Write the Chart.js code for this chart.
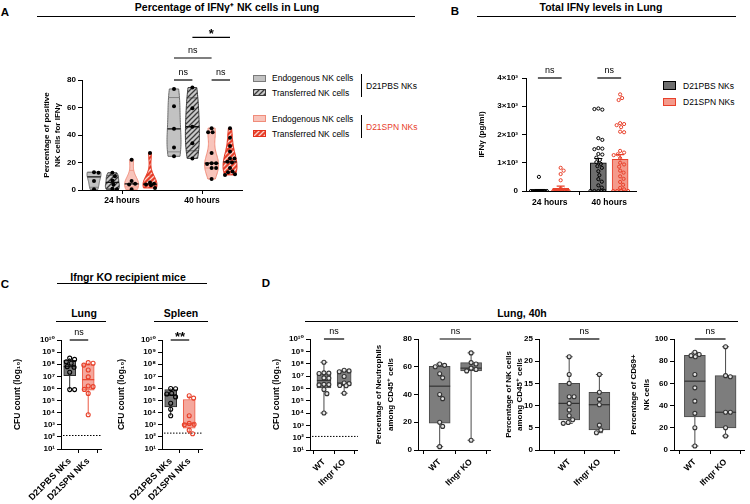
<!DOCTYPE html>
<html>
<head>
<meta charset="utf-8">
<script src="https://cdn.jsdelivr.net/npm/chart.js@4.4.1/dist/chart.umd.min.js"></script>
<style>
  body { margin: 0; background: #fff; }
  #fig { position: relative; width: 750px; height: 504px; overflow: hidden; font-family: "Liberation Sans", Arial, sans-serif; color: #000; }
  #fig canvas { position: absolute; }
  .t { position: absolute; white-space: nowrap; line-height: 1; }
  .c { transform: translate(-50%, -50%); }
  .l { transform: translateY(-50%); }
  .b { font-weight: bold; }
  .rule { position: absolute; background: #000; }
  .sw { position: absolute; box-sizing: border-box; }
</style>
</head>
<body>
<div id="fig"></div>
<script>
// ---------- data ----------
var timeLabels = ['24 hours', '40 hours'];
var aTicks = [0, 20, 40, 60, 80];
// panel A: % of IFNg+ NK cells, one array per violin
var pbsEndo24 = [13, 12.5, 6.5, 0.5];
var pbsTrans24 = [12.5, 10, 7, 4, 1, 0.5];
var spnEndo24 = [22, 6.5, 4.5, 4, 0.5];
var spnTrans24 = [27, 5.5, 4.5, 4, 3.5, 1.5];
var pbsEndo40 = [73.5, 61, 44.5, 31, 24.5];
var pbsTrans40 = [74.5, 59.5, 46, 34, 23];
var spnEndo40 = [45, 42, 42, 27, 19.5, 19.5, 19, 16, 16, 8];
var spnTrans40 = [45, 38, 32, 28, 23, 23, 20.5, 20, 16, 13.5, 13, 11.5, 11];

// panel B: total IFNg (pg/ml)
var bTicks = [0, 1000, 2000, 3000, 4000];
var bTickLabels = ['0', '1×10³', '2×10³', '3×10³', '4×10³'];
var pbsMeanB = [25, 1000];
var spnMeanB = [95, 1120];
var pbsSemB = [25, 150];
var spnSemB = [80, 170];
var pbs24B = [500, 0, 0, 0, 0, 0, 0, 0, 0, 0, 0, 0, 0, 0, 0];
var spn24B = [820, 720, 600, 380, 90, 40, 20, 0, 0, 0, 0, 0, 0, 0, 0, 0, 0, 0, 0, 0];
var pbs40B = [2920, 2880, 2900, 1870, 1810, 1520, 1500, 1480, 1310, 1290, 1180, 1100, 1020, 960, 880, 820, 700, 560, 420, 330, 200, 120, 0, 0, 0, 0, 0];
var spn40B = [3420, 3290, 3220, 2400, 2370, 2330, 2260, 2100, 2080, 1420, 1360, 1300, 1270, 1160, 1000, 940, 860, 720, 650, 520, 430, 320, 220, 110, 60, 0, 0, 0, 0];

// panel C: CFU in Ifngr KO recipients
var cGroups = ['D21PBS NKs', 'D21SPN NKs'];
var lungPBS = [3.2e8, 2.5e8, 1.6e8, 1.2e8, 6.3e7, 5.6e7, 2.2e7, 8e5, 8e5];
var lungSPN = [1.35e8, 1.2e8, 8.5e7, 3.3e7, 9e6, 1.6e6, 1.4e6, 8.3e5, 3.9e5, 6.8e3];
var spleenPBS = [1e6, 9.5e5, 3.9e5, 3.5e5, 2e5, 6e4, 1.9e4, 5.6e3];
var spleenSPN = [2.5e5, 1.6e5, 5.6e3, 1.3e3, 1.1e3, 1e3, 3.6e2, 1.8e2];
var lungLimit = 130;
var spleenLimit = 205;
var logTicks = [1e1, 1e2, 1e3, 1e4, 1e5, 1e6, 1e7, 1e8, 1e9, 1e10];
var logTickLabels = ['10¹', '10²', '10³', '10⁴', '10⁵', '10⁶', '10⁷', '10⁸', '10⁹', '10¹⁰'];

// panel D: lung, 40h
var dGroups = ['WT', 'Ifngr KO'];
var cfuWT = [1.3e8, 1.8e7, 1.7e7, 1.6e7, 7e6, 6.5e6, 2.1e6, 2e6, 1.9e6, 8e5, 3.7e5, 1e4];
var cfuKO = [2.9e7, 2.6e7, 2.2e7, 9e6, 2.7e6, 2.4e6, 1.7e6, 1.6e6, 4e5];
var cfuLimit = 126;
var neutWT = [62, 61, 60, 55, 52, 40, 37, 20, 17, 2.4];
var neutKO = [70, 63, 62, 59, 58, 57, 7];
var nkWT = [21, 17, 15, 12, 12, 10.5, 9, 7.7, 6.8, 6.2, 6];
var nkKO = [17, 13, 11.4, 10.2, 5.6, 4.5, 3.9];
var cd69WT = [88, 86, 85, 84, 68, 56, 44, 33, 20, 3.6];
var cd69KO = [93, 67, 66, 34, 34, 20, 12.6];
var neutTicks = [0, 20, 40, 60, 80];
var nkTicks = [0, 5, 10, 15, 20, 25];
var cd69Ticks = [0, 20, 40, 60, 80, 100];

// ---------- helpers ----------
var FONT = '"Liberation Sans", "DejaVu Sans", Arial, sans-serif';
Chart.defaults.font.family = FONT;
Chart.defaults.color = '#000';
var fig = document.getElementById('fig');

function txt(s, x, y, size, cls, color) {
  var d = document.createElement('div');
  d.className = 't ' + cls;
  d.textContent = s;
  d.style.left = x + 'px';
  d.style.top = y + 'px';
  d.style.fontSize = size + 'px';
  if (color) d.style.color = color;
  fig.appendChild(d);
}
function rule(x1, x2, y, w) {
  var d = document.createElement('div');
  d.className = 'rule';
  d.style.left = x1 + 'px'; d.style.width = (x2 - x1) + 'px';
  d.style.top = (y - w / 2) + 'px'; d.style.height = w + 'px';
  fig.appendChild(d);
}
function swatch(x, y, w, h, bg, border) {
  var d = document.createElement('div');
  d.className = 'sw';
  d.style.left = x + 'px'; d.style.top = y + 'px';
  d.style.width = w + 'px'; d.style.height = h + 'px';
  d.style.background = bg;
  d.style.border = '1px solid ' + border;
  fig.appendChild(d);
}
function hatchCanvas(bg, fg) {
  var c = document.createElement('canvas');
  c.width = 5; c.height = 5;
  var g = c.getContext('2d');
  g.fillStyle = bg; g.fillRect(0, 0, 5, 5);
  g.strokeStyle = fg; g.lineWidth = 1.3;
  g.beginPath();
  g.moveTo(-1, 6); g.lineTo(6, -1);
  g.moveTo(-1, 1); g.lineTo(1, -1);
  g.moveTo(4, 6); g.lineTo(6, 4);
  g.stroke();
  return c;
}

function quant(s, p) {
  var n = s.length, pos = (n + 1) * p;
  if (pos <= 1) return s[0];
  if (pos >= n) return s[n - 1];
  var lo = Math.floor(pos), f = pos - lo;
  return s[lo - 1] + f * (s[lo] - s[lo - 1]);
}
function stats(vals) {
  var s = vals.slice().sort(function (a, b) { return a - b; });
  return { min: s[0], q1: quant(s, 0.25), med: quant(s, 0.5), q3: quant(s, 0.75), max: s[s.length - 1] };
}

// simple beeswarm: horizontal pixel offsets so dots don't overlap (overlap once the limit is reached)
function swarm(vals, toPx, r, limit) {
  var placed = [], out = [];
  vals.forEach(function (v) {
    var y = toPx(v), best = 0, bestD = -1;
    for (var k = 0; k <= limit * 4; k++) {
      var off = (k % 2 ? 1 : -1) * Math.ceil(k / 2) * 0.5;
      if (Math.abs(off) > limit) continue;
      var d = Infinity;
      placed.forEach(function (p) { d = Math.min(d, Math.hypot(p[0] - off, p[1] - y)); });
      if (d >= 2 * r) { best = off; bestD = Infinity; break; }
      if (d > bestD) { bestD = d; best = off; }
    }
    placed.push([best, y]);
    out.push(best);
  });
  return out;
}
function swarmXY(vals, cx, toPx, pxPerX, r, limit) {
  var off = swarm(vals, toPx, r, limit);
  return vals.map(function (v, i) { return { x: cx + off[i] / pxPerX, y: v }; });
}
function linPx(min, max, h) { return function (v) { return (v - min) / (max - min) * h; }; }
function logPx(min, max, h) { return function (v) { return (Math.log10(v) - Math.log10(min)) / (Math.log10(max) - Math.log10(min)) * h; }; }

function drawViolin(ctx, xs, ys, v) {
  var s = v.vals.slice().sort(function (a, b) { return a - b; });
  var n = s.length, mean = s.reduce(function (p, c) { return p + c; }, 0) / n;
  var sd = Math.sqrt(s.reduce(function (p, c) { return p + (c - mean) * (c - mean); }, 0) / (n - 1));
  var h = 0.9 * sd * Math.pow(n, -0.2);
  var pts = [], maxD = 0, steps = 40;
  for (var i = 0; i <= steps; i++) {
    var y = s[0] + (s[n - 1] - s[0]) * i / steps, d = 0;
    s.forEach(function (x) { var u = (y - x) / h; d += Math.exp(-0.5 * u * u); });
    pts.push([y, d]);
    if (d > maxD) maxD = d;
  }
  var cx = xs.getPixelForValue(v.x);
  ctx.save();
  ctx.beginPath();
  pts.forEach(function (p, i) {
    var px = cx - p[1] / maxD * v.hw, py = ys.getPixelForValue(p[0]);
    if (i) ctx.lineTo(px, py); else ctx.moveTo(px, py);
  });
  for (var j = pts.length - 1; j >= 0; j--) ctx.lineTo(cx + pts[j][1] / maxD * v.hw, ys.getPixelForValue(pts[j][0]));
  ctx.closePath();
  ctx.fillStyle = v.hatch ? ctx.createPattern(hatchCanvas(v.hatch[0], v.hatch[1]), 'repeat') : v.fill;
  ctx.fill();
  ctx.strokeStyle = v.stroke; ctx.lineWidth = 1; ctx.stroke();
  ctx.clip();
  var st = stats(v.vals);
  ctx.lineWidth = 0.7; ctx.strokeStyle = v.stroke;
  [st.q1, st.q3].forEach(function (q) {
    var y = ys.getPixelForValue(q);
    ctx.beginPath(); ctx.moveTo(cx - 12, y); ctx.lineTo(cx + 12, y); ctx.stroke();
  });
  ctx.lineWidth = 1.3; ctx.strokeStyle = '#111';
  var ym = ys.getPixelForValue(st.med);
  ctx.beginPath(); ctx.moveTo(cx - 12, ym); ctx.lineTo(cx + 12, ym); ctx.stroke();
  ctx.restore();
}

function extras(spec) {
  return {
    id: 'extras',
    beforeDatasetsDraw: function (chart) {
      var ctx = chart.ctx, xs = chart.scales.x, ys = chart.scales.y, a = chart.chartArea;
      if (spec.limit) {
        var y = ys.getPixelForValue(spec.limit);
        ctx.save(); ctx.strokeStyle = '#000'; ctx.lineWidth = 1; ctx.setLineDash([1.5, 1.5]);
        ctx.beginPath(); ctx.moveTo(a.left + 2, y); ctx.lineTo(a.right, y); ctx.stroke();
        ctx.restore();
      }
      (spec.violins || []).forEach(function (v) { drawViolin(ctx, xs, ys, v); });
    },
    afterDatasetDraw: function (chart, args) {
      if (args.index !== 0) return;
      var ctx = chart.ctx, xs = chart.scales.x, ys = chart.scales.y;
      ctx.save();
      (spec.boxes || []).forEach(function (b) {
        var st = stats(b.vals), cx = xs.getPixelForValue(b.x), hw = b.w / 2;
        var yMin = ys.getPixelForValue(st.min), yMax = ys.getPixelForValue(st.max);
        var y1 = ys.getPixelForValue(st.q1), y3 = ys.getPixelForValue(st.q3), ym = ys.getPixelForValue(st.med);
        ctx.strokeStyle = b.line; ctx.lineWidth = 1;
        ctx.beginPath();
        ctx.moveTo(cx, y3); ctx.lineTo(cx, yMax);
        ctx.moveTo(cx, y1); ctx.lineTo(cx, yMin);
        if (b.cap) {
          ctx.moveTo(cx - b.cap, yMax); ctx.lineTo(cx + b.cap, yMax);
          ctx.moveTo(cx - b.cap, yMin); ctx.lineTo(cx + b.cap, yMin);
        }
        ctx.stroke();
        ctx.strokeStyle = b.med; ctx.lineWidth = 1.2;
        ctx.beginPath(); ctx.moveTo(cx - hw, ym); ctx.lineTo(cx + hw, ym); ctx.stroke();
      });
      (spec.errors || []).forEach(function (e) {
        var cx = xs.getPixelForValue(e.x), y0 = ys.getPixelForValue(e.mean), y1 = ys.getPixelForValue(e.mean + e.sem);
        ctx.strokeStyle = e.color; ctx.lineWidth = 1.2;
        ctx.beginPath();
        ctx.moveTo(cx, y0); ctx.lineTo(cx, y1);
        ctx.moveTo(cx - 4, y1); ctx.lineTo(cx + 4, y1);
        ctx.stroke();
      });
      ctx.restore();
    },
    afterDraw: function (chart) {
      var ctx = chart.ctx, xs = chart.scales.x, ys = chart.scales.y;
      ctx.save();
      (spec.brackets || []).forEach(function (b) {
        var x1 = xs.getPixelForValue(b.x1), x2 = xs.getPixelForValue(b.x2), y = ys.getPixelForValue(b.y);
        ctx.strokeStyle = '#000'; ctx.lineWidth = 1.2;
        ctx.beginPath(); ctx.moveTo(x1, y); ctx.lineTo(x2, y); ctx.stroke();
        ctx.fillStyle = '#000'; ctx.textAlign = 'center'; ctx.textBaseline = 'alphabetic';
        if (b.text === 'ns') {
          ctx.font = '9px ' + FONT;
          ctx.fillText('ns', (x1 + x2) / 2, y - 5);
        } else {
          ctx.font = 'bold 13px ' + FONT;
          ctx.fillText(b.text, (x1 + x2) / 2, y + 0.5);
        }
      });
      ctx.restore();
    }
  };
}

var gridOpts = { display: true, drawOnChartArea: false, drawTicks: true, tickLength: 4, color: '#000', lineWidth: 1 };
var borderOpts = { display: true, color: '#000', width: 1 };

function yAxis(o) {
  return {
    type: o.type || 'linear', min: o.min, max: o.max, position: 'left',
    afterFit: function (s) { s.width = o.w; },
    afterBuildTicks: function (s) { s.ticks = o.ticks.map(function (v) { return { value: v }; }); },
    ticks: {
      font: { size: 8, weight: 'bold' }, padding: o.tpad || 2, autoSkip: false,
      callback: function (v) { var i = o.ticks.indexOf(v); return o.labels ? o.labels[i] : String(v); }
    },
    grid: gridOpts, border: borderOpts,
    title: { display: true, text: o.title, font: { size: o.fs || 8, weight: 'bold', lineHeight: o.lh + 'px' }, padding: { top: o.pad, bottom: 0 } }
  };
}
function xAxis(o) {
  var rot = o.rot || 0;
  return {
    type: 'linear', min: o.min, max: o.max, position: 'bottom', offset: false,
    afterFit: function (s) { s.height = o.h; },
    afterBuildTicks: function (s) { s.ticks = o.labels.map(function (l, i) { return { value: i + 1 }; }); },
    ticks: {
      font: { size: o.fs || 8.5, weight: 'bold' }, padding: o.pad || 2, autoSkip: false,
      maxRotation: rot, minRotation: rot,
      callback: function (v) { return o.labels[Math.round(v) - 1]; }
    },
    grid: gridOpts, border: borderOpts
  };
}

function makeChart(g, datasets, scales, spec) {
  var cv = document.createElement('canvas');
  var left = g.l - g.yW, top = g.t - g.pt;
  cv.width = g.r - left + g.pr;
  cv.height = g.b - top + g.xH;
  cv.style.left = left + 'px';
  cv.style.top = top + 'px';
  fig.appendChild(cv);
  return new Chart(cv.getContext('2d'), {
    type: 'scatter',
    data: { datasets: datasets },
    options: {
      responsive: false, animation: false, events: [], devicePixelRatio: 1,
      layout: { padding: { left: 0, top: g.pt, right: g.pr, bottom: 0 } },
      scales: scales,
      plugins: { legend: { display: false }, tooltip: { enabled: false } }
    },
    plugins: [extras(spec)]
  });
}
function dots(data, border, fill, r, bw) {
  return { type: 'scatter', data: data, order: 1, pointRadius: r, pointBorderWidth: bw, pointBorderColor: border, pointBackgroundColor: fill };
}

// ---------- panel A ----------
var vOff = [-0.35, -0.12, 0.12, 0.35];
var aSets = [[pbsEndo24, pbsTrans24, spnEndo24, spnTrans24], [pbsEndo40, pbsTrans40, spnEndo40, spnTrans40]];
var vStyles = [
  { fill: '#c2c2c2', stroke: '#6a6a6a' },
  { hatch: ['#c8c8c8', '#3a3a3a'], stroke: '#3a3a3a' },
  { fill: '#f8c4bb', stroke: '#f08c7a' },
  { hatch: ['#e8402a', '#fbd3cc'], stroke: '#e3301c' }
];
var gA = { l: 82, t: 80, r: 242, b: 190, yW: 82, xH: 26, pt: 60, pr: 6 };
var aDots = [], aViolins = [];
aSets.forEach(function (grp, gi) {
  grp.forEach(function (vals, k) {
    var cx = gi + 1 + vOff[k];
    aViolins.push({ x: cx, vals: vals, hw: 7, fill: vStyles[k].fill, hatch: vStyles[k].hatch, stroke: vStyles[k].stroke });
    aDots.push(dots(swarmXY(vals, cx, linPx(0, 80, 110), 80, 2.1, 5), '#000', '#000', 2, 0));
  });
});
makeChart(gA, aDots, {
  x: xAxis({ min: 0.5, max: 2.5, h: gA.xH, labels: timeLabels, pad: 2 }),
  y: yAxis({ min: 0, max: 80, w: gA.yW, ticks: aTicks, title: ['Percentage of positive', 'NK cells for IFNγ'], lh: 11, pad: 41 })
}, {
  violins: aViolins,
  brackets: [
    { x1: 2 + vOff[0], x2: 2 + vOff[1], y: 80, text: 'ns' },
    { x1: 2 + vOff[2], x2: 2 + vOff[3], y: 80, text: 'ns' },
    { x1: 2 + vOff[0], x2: 2 + vOff[2], y: 96, text: 'ns' },
    { x1: 2 + vOff[1], x2: 2 + vOff[3], y: 111, text: '*' }
  ]
});

// ---------- panel B ----------
var gB = { l: 526, t: 78, r: 637, b: 191, yW: 56, xH: 22, pt: 20, pr: 4 };
var bo = 0.183, bPx = linPx(0, 4000, 113);
var bBars = {
  type: 'bar', order: 2, barThickness: 16, borderWidth: 1, borderSkipped: false,
  data: [
    { x: 1 - bo, y: pbsMeanB[0] }, { x: 1 + bo, y: spnMeanB[0] },
    { x: 2 - bo, y: pbsMeanB[1] }, { x: 2 + bo, y: spnMeanB[1] }
  ],
  backgroundColor: ['#6e6e6e', '#f49a8b', '#6e6e6e', '#f49a8b'],
  borderColor: ['#000', '#e8402a', '#000', '#e8402a']
};
makeChart(gB, [
  bBars,
  dots(swarmXY(pbs24B, 1 - bo, bPx, 60, 2, 8), '#000', 'rgba(0,0,0,0)', 1.6, 1),
  dots(swarmXY(spn24B, 1 + bo, bPx, 60, 2, 8), '#e8402a', 'rgba(0,0,0,0)', 1.6, 1),
  dots(swarmXY(pbs40B, 2 - bo, bPx, 60, 2, 8), '#000', 'rgba(0,0,0,0)', 1.6, 1),
  dots(swarmXY(spn40B, 2 + bo, bPx, 60, 2, 8), '#e8402a', 'rgba(0,0,0,0)', 1.6, 1)
], {
  x: xAxis({ min: 0.6, max: 2.45, h: gB.xH, labels: timeLabels, pad: 3 }),
  y: yAxis({ min: 0, max: 4000, w: gB.yW, ticks: bTicks, labels: bTickLabels, title: 'IFNγ (pg/ml)', lh: 11, pad: 6.5, tpad: 4 })
}, {
  errors: [
    { x: 1 - bo, mean: pbsMeanB[0], sem: pbsSemB[0], color: '#000' },
    { x: 1 + bo, mean: spnMeanB[0], sem: spnSemB[0], color: '#e8402a' },
    { x: 2 - bo, mean: pbsMeanB[1], sem: pbsSemB[1], color: '#000' },
    { x: 2 + bo, mean: spnMeanB[1], sem: spnSemB[1], color: '#e8402a' }
  ],
  brackets: [
    { x1: 1 - 0.2, x2: 1 + 0.2, y: 4000, text: 'ns' },
    { x1: 2 - 0.2, x2: 2 + 0.2, y: 4000, text: 'ns' }
  ]
});

// ---------- box plot charts (C and D) ----------
function boxChart(g, xr, yo, groups, a, b, look, spec) {
  var pxX = (g.r - g.l) / (xr[1] - xr[0]);
  var toPx = yo.type === 'logarithmic' ? logPx(yo.min, yo.max, g.b - g.t) : linPx(yo.min, yo.max, g.b - g.t);
  var sa = stats(a), sb = stats(b);
  var bars = {
    type: 'bar', order: 2, barThickness: look.w, borderWidth: 1, borderSkipped: false,
    data: [{ x: 1, y: [sa.q1, sa.q3] }, { x: 2, y: [sb.q1, sb.q3] }],
    backgroundColor: [look.fillA, look.fillB], borderColor: [look.lineA, look.lineB]
  };
  spec.boxes = [
    { x: 1, vals: a, w: look.w, line: look.lineA, med: look.medA, cap: look.cap },
    { x: 2, vals: b, w: look.w, line: look.lineB, med: look.medB, cap: look.cap }
  ];
  yo.w = g.yW;
  makeChart(g, [
    bars,
    dots(swarmXY(a, 1, toPx, pxX, 2.5, look.spread), look.dotA, look.dotFill, 2, 1.1),
    dots(swarmXY(b, 2, toPx, pxX, 2.5, look.spread), look.dotB, look.dotFill, 2, 1.1)
  ], {
    x: xAxis({ min: xr[0], max: xr[1], h: g.xH, labels: groups, rot: 45, pad: 3, fs: look.xfs }),
    y: yAxis(yo)
  }, spec);
}

var lookC = { w: 12, fillA: '#787878', fillB: '#f5a79c', lineA: '#2b2b2b', lineB: '#ec5843', medA: '#1a1a1a', medB: '#e8402a',
  dotA: '#000', dotB: '#e8402a', dotFill: 'rgba(0,0,0,0)', spread: 7, cap: 0, xfs: 9 };
var lookD = { w: 14, fillA: '#7d7d7d', fillB: '#7d7d7d', lineA: '#4a4a4a', lineB: '#4a4a4a', medA: '#333', medB: '#333',
  dotA: '#333', dotB: '#333', dotFill: '#e4e4e4', spread: 7, cap: 3.5, xfs: 8.5 };

// panel C
boxChart({ l: 61, t: 340, r: 103, b: 449, yW: 55, xH: 55, pt: 16, pr: 4 }, [0.53, 2.74],
  { type: 'logarithmic', min: 10, max: 1e10, ticks: logTicks, labels: logTickLabels, title: 'CFU count (log₁₀)', lh: 11, pad: 6.5, fs: 8.5 },
  cGroups, lungPBS, lungSPN, lookC,
  { limit: lungLimit, brackets: [{ x1: 1, x2: 2, y: 1e10, text: 'ns' }] });
boxChart({ l: 162, t: 340, r: 204, b: 449, yW: 50, xH: 55, pt: 16, pr: 4 }, [0.53, 2.74],
  { type: 'logarithmic', min: 10, max: 1e10, ticks: logTicks, labels: logTickLabels, title: 'CFU count (log₁₀)', lh: 11, pad: 4.5, fs: 8.5 },
  cGroups, spleenPBS, spleenSPN, lookC,
  { limit: spleenLimit, brackets: [{ x1: 1, x2: 2, y: 1e10, text: '**' }] });

// panel D
boxChart({ l: 310, t: 339, r: 359, b: 450, yW: 45, xH: 54, pt: 17, pr: 4 }, [0.31, 2.68],
  { type: 'logarithmic', min: 10, max: 1e10, ticks: logTicks, labels: logTickLabels, title: 'CFU count (log₁₀)', lh: 11, pad: 6.5, fs: 8.5 },
  dGroups, cfuWT, cfuKO, lookD,
  { limit: cfuLimit, brackets: [{ x1: 1, x2: 2, y: 1e10, text: 'ns' }] });
lookD.w = 21;
boxChart({ l: 418, t: 339, r: 492, b: 450, yW: 48, xH: 54, pt: 17, pr: 4 }, [0.31, 2.63],
  { min: 0, max: 80, ticks: neutTicks, title: ['Percentage of Neutrophils', 'among CD45⁺ cells'], lh: 12, pad: 3 },
  dGroups, neutWT, neutKO, lookD,
  { brackets: [{ x1: 1, x2: 2, y: 80, text: 'ns' }] });
boxChart({ l: 539, t: 339, r: 621, b: 450, yW: 38, xH: 54, pt: 17, pr: 4 }, [0, 2.68],
  { min: 0, max: 25, ticks: nkTicks, title: ['Percentage of NK cells', 'among CD45⁺ cells'], lh: 11, pad: 2.5 },
  dGroups, nkWT, nkKO, lookD,
  { brackets: [{ x1: 1, x2: 2, y: 25, text: 'ns' }] });
boxChart({ l: 674, t: 339, r: 748, b: 450, yW: 50, xH: 54, pt: 17, pr: 2 }, [0.32, 2.63],
  { min: 0, max: 100, ticks: cd69Ticks, title: ['Percentage of CD69+', 'NK cells'], lh: 13, pad: 3.5 },
  dGroups, cd69WT, cd69KO, lookD,
  { brackets: [{ x1: 1, x2: 2, y: 100, text: 'ns' }] });

// ---------- titles, rules, legends ----------
txt('A', 5, 12.5, 11.5, 'c b');
txt('Percentage of IFNγ⁺ NK cells in Lung', 227, 7, 10.5, 'c b');
rule(37, 415, 16.5, 1.4);
txt('B', 455, 12, 11.5, 'c b');
txt('Total IFNγ levels in Lung', 601, 6.5, 10.5, 'c b');
rule(477, 736, 16.5, 1.4);

var hatchGrey = hatchCanvas('#c8c8c8', '#3a3a3a').toDataURL();
var hatchRed = hatchCanvas('#e8402a', '#fbd3cc').toDataURL();
swatch(253, 74.5, 13, 7, '#c2c2c2', '#7a7a7a');
swatch(253, 89, 13, 7, 'url(' + hatchGrey + ')', '#3a3a3a');
txt('Endogenous NK cells', 272, 78, 8.5, 'l');
txt('Transferred NK cells', 272, 92.5, 8.5, 'l');
rule(361, 362.4, 85, 23);
txt('D21PBS NKs', 366, 86, 8.5, 'l');
swatch(253, 115, 13, 7, '#f8c4bb', '#f08c7a');
swatch(253, 130, 13, 7, 'url(' + hatchRed + ')', '#e3301c');
txt('Endogenous NK cells', 272, 118.5, 8.5, 'l');
txt('Transferred NK cells', 272, 133.5, 8.5, 'l');
rule(361, 362.4, 126, 23);
txt('D21SPN NKs', 366, 126.5, 8.5, 'l', '#e8402a');

swatch(663, 81, 13, 8.5, '#6e6e6e', '#000');
swatch(663, 97.5, 13, 8.5, '#f49a8b', '#e8402a');
txt('D21PBS NKs', 683, 86, 8.5, 'l');
txt('D21SPN NKs', 683, 101.5, 8.5, 'l');

txt('C', 5, 285, 11.5, 'c b');
txt('Ifngr KO recipient mice', 128, 277, 10.5, 'c b');
rule(57, 207, 283.5, 1.4);
txt('Lung', 84, 313, 10.5, 'c b');
rule(56, 106, 321.5, 1.4);
txt('Spleen', 181, 313, 10.5, 'c b');
rule(154, 208, 321.5, 1.4);

txt('D', 266, 284, 11.5, 'c b');
txt('Lung, 40h', 522, 313, 10.5, 'c b');
rule(305, 738, 321.5, 1.4);
</script>
</body>
</html>
